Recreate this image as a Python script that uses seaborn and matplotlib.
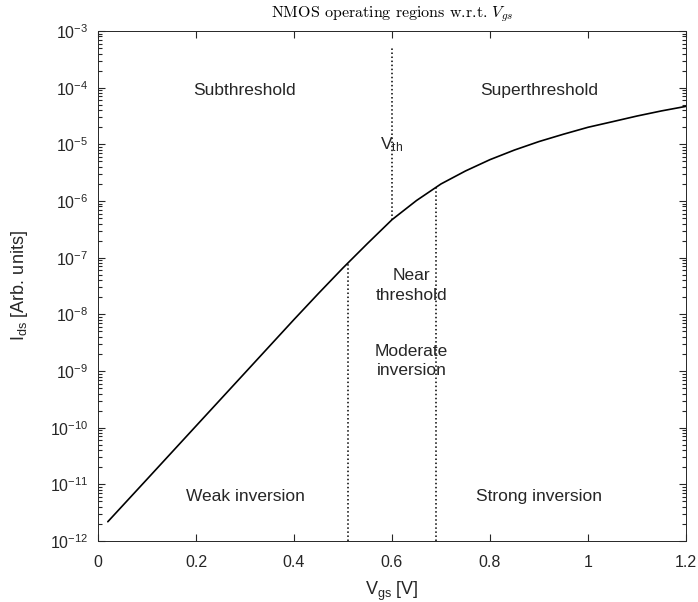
# NMOS drain current vs gate voltage, with operating-region annotations.

import numpy as np
import pandas as pd
import matplotlib
matplotlib.use("Agg")
import matplotlib.pyplot as plt
import matplotlib.ticker as mticker
import seaborn as sns

# Values
vgs = [0.02, 0.1, 0.2, 0.3, 0.4, 0.45, 0.5, 0.55, 0.6, 0.65, 0.7,
       0.75, 0.8, 0.85, 0.9, 0.95, 1.0, 1.05, 1.1, 1.15, 1.2]
ids = [2.19e-12, 1.23e-11, 1.07e-10, 9.3e-10, 8.1e-9, 2.34e-8, 6.6e-8, 1.78e-7,
       4.68e-7, 1.02e-6, 2.0e-6, 3.39e-6, 5.37e-6, 7.94e-6, 1.12e-5, 1.51e-5,
       2.0e-5, 2.51e-5, 3.16e-5, 3.89e-5, 4.68e-5]

# region boundaries
v_th = 0.6
vth_top = 5e-4
vth_bottom = 4.68e-7
boundary_x = [0.51, 0.69]
boundary_top = [7.9e-8, 1.74e-6]

region_labels = ["Subthreshold", "Superthreshold", "Weak inversion", "Strong inversion",
                 "Near\nthreshold", "Moderate\ninversion"]
label_x = [0.30, 0.90, 0.30, 0.90, 0.64, 0.64]
label_y = [8.8e-5, 8.8e-5, 6.0e-12, 6.0e-12, 3.2e-8, 1.5e-9]

x_ticks = [0, 0.2, 0.4, 0.6, 0.8, 1, 1.2]
x_ticklabels = ["0", "0.2", "0.4", "0.6", "0.8", "1", "1.2"]

dark = "#262626"

sns.set_style("white")
plt.rcParams.update({
    "font.family": ["Liberation Sans", "DejaVu Sans"],
    "mathtext.fontset": "custom",
    "mathtext.rm": "Liberation Sans",
    "mathtext.it": "Liberation Sans",
    "mathtext.bf": "Liberation Sans:bold",
})


def decade_label(v, pos):
    return r"10$^{\mathregular{%d}}$" % int(round(np.log10(v)))


fig = plt.figure(figsize=(6.98, 6.02), dpi=100)
ax = fig.add_axes([0.1404, 0.1013, 0.8424, 0.8472])

df = pd.DataFrame({"Vgs": vgs, "Ids": ids})
sns.lineplot(data=df, x="Vgs", y="Ids", ax=ax, color="black", linewidth=1.2)

ax.set_yscale("log")
ax.set_xlim(0, 1.2)
ax.set_ylim(1e-12, 1e-3)

# dotted region boundaries
ax.plot([v_th, v_th], [vth_bottom, vth_top], color="black", linestyle=":", linewidth=1.1)
for bx, bt in zip(boundary_x, boundary_top):
    ax.plot([bx, bx], [1e-12, bt], color="black", linestyle=":", linewidth=1.1)

for txt, tx, ty in zip(region_labels, label_x, label_y):
    ax.text(tx, ty, txt, ha="center", va="center", fontsize=12.5, color=dark,
            linespacing=1.4)
ax.text(v_th, 1e-5, r"V$_{\mathregular{th}}$", ha="center", va="center",
        fontsize=12.5, color=dark)

# ticks and box, MATLAB-like
ax.set_xticks(x_ticks)
ax.set_xticklabels(x_ticklabels)
ax.yaxis.set_major_locator(mticker.LogLocator(base=10, numticks=20))
ax.yaxis.set_minor_locator(mticker.LogLocator(base=10, subs=np.arange(2, 10), numticks=20))
ax.yaxis.set_minor_formatter(mticker.NullFormatter())
ax.yaxis.set_major_formatter(mticker.FuncFormatter(decade_label))
ax.tick_params(which="both", direction="in", top=True, right=True, bottom=True, left=True,
               color=dark, width=0.8)
ax.tick_params(which="major", length=5)
ax.tick_params(which="minor", length=2.8)
ax.tick_params(axis="x", which="major", pad=10, labelsize=11.5, labelcolor=dark)
ax.tick_params(axis="y", which="major", pad=7, labelsize=11.5, labelcolor=dark)
for s in ax.spines.values():
    s.set_visible(True)
    s.set_color(dark)
    s.set_linewidth(0.7)

ax.set_xlabel(r"V$_{\mathregular{gs}}$ [V]", fontsize=13, color=dark, labelpad=7)
ax.set_ylabel(r"I$_{\mathregular{ds}}$ [Arb. units]", fontsize=13, color=dark, labelpad=14)
ax.set_title(r"NMOS operating regions w.r.t. $V_{gs}$", fontsize=11.5,
             fontfamily="cmr10", math_fontfamily="cm", color="black", pad=10)

fig.savefig("out.png", dpi=100)
